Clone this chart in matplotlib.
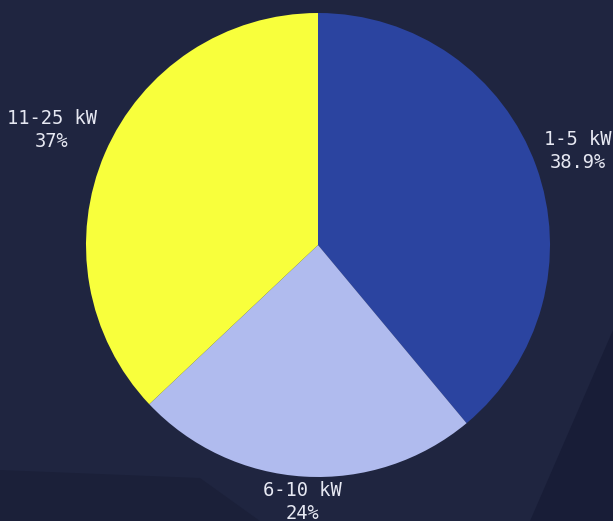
import matplotlib

matplotlib.use("Agg")

import matplotlib.pyplot as plt
import numpy as np
from matplotlib.patches import Polygon

plt.rcParams["font.family"] = ["DejaVu Sans Mono", "Liberation Mono"]

categories = ["1-5 kW", "6-10 kW", "11-25 kW"]
shares = [38.9, 24, 37]
pct_labels = ["38.9%", "24%", "37%"]

COLORS = ["#2b44a0", "#b0bbee", "#f8ff3c"]
BG = "#1f2540"
TEXT = "#e6e8f2"
LABEL_DIST = [1.19, 1.11, 1.25]

fig = plt.figure(figsize=(6.13, 5.21), dpi=100, facecolor=BG)

# faint darker shapes from the background image
bg = fig.add_axes([0, 0, 1, 1])
bg.set_xlim(0, 613)
bg.set_ylim(521, 0)
bg.axis("off")
bg.add_patch(Polygon([[530, 521], [613, 330], [613, 521]], closed=True,
                     color="#181d37", lw=0))
bg.add_patch(Polygon([[0, 470], [200, 478], [260, 521], [0, 521]], closed=True,
                     color="#1b2039", lw=0))

ax = fig.add_axes([86 / 613, 44 / 521, 464 / 613, 464 / 521])
wedges, _ = ax.pie(shares, colors=COLORS, startangle=90, counterclock=False,
                   radius=1.0, wedgeprops=dict(linewidth=0))
ax.set_xlim(-1, 1)
ax.set_ylim(-1, 1)
ax.set_aspect("equal")
ax.axis("off")

for w, cat, pct, d in zip(wedges, categories, pct_labels, LABEL_DIST):
    mid = np.deg2rad((w.theta1 + w.theta2) / 2)
    ax.text(d * np.cos(mid), d * np.sin(mid), f"{cat}\n{pct}", ha="center",
            va="center", color=TEXT, fontsize=13.5, linespacing=1.25)

fig.savefig("out.png", dpi=100, facecolor=BG)
